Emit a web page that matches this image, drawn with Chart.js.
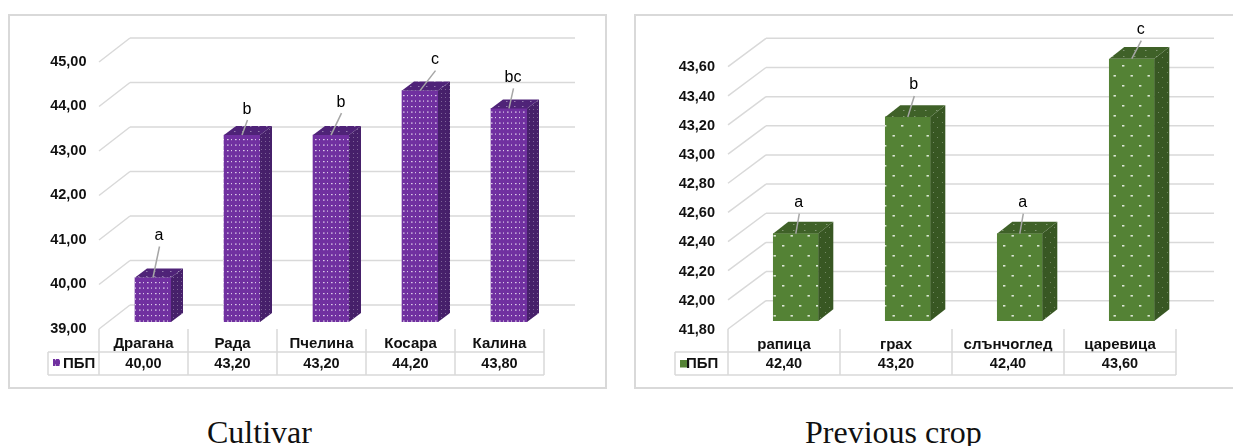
<!DOCTYPE html>
<html lang="en">
<head>
  <meta charset="UTF-8" />
  <title>ПБП</title>
  <script src="https://cdn.jsdelivr.net/npm/chart.js"></script>
  <style>
    html, body { margin: 0; background: #fff; }
    body { position: relative; width: 1233px; height: 446px; overflow: hidden; }
    .frame { position: absolute; top: 14px; height: 371px; border: 2px solid #d9d9d9; box-sizing: content-box; }
    #frameLeft { left: 8px; width: 595px; }
    #frameRight { left: 634px; width: 640px; }
    canvas { position: absolute; top: 0; }
    #cultivarChart { left: 0; }
    #cropChart { left: 625px; }
    .caption { position: absolute; top: 416px; font: 32px/32px "Liberation Serif", serif; color: #111; white-space: nowrap; }
  </style>
</head>
<body>
  <div class="frame" id="frameLeft"></div>
  <div class="frame" id="frameRight"></div>
  <canvas id="cultivarChart" width="620" height="400"></canvas>
  <canvas id="cropChart" width="608" height="400"></canvas>
  <div class="caption" style="left:207px">Cultivar</div>
  <div class="caption" style="left:805px">Previous crop</div>

  <script>
    const seriesName = 'ПБП';

    const cultivars = ['Драгана', 'Рада', 'Пчелина', 'Косара', 'Калина'];
    const cultivarValues = [40.00, 43.20, 43.20, 44.20, 43.80];
    const cultivarLetters = ['a', 'b', 'b', 'c', 'bc'];

    const previousCrops = ['рапица', 'грах', 'слънчоглед', 'царевица'];
    const previousCropValues = [42.40, 43.20, 42.40, 43.60];
    const previousCropLetters = ['a', 'b', 'a', 'c'];

    const LINE = '#d9d9d9';
    const INK = '#111';
    const numberText = v => v.toFixed(2).replace('.', ',');

    // small repeating tile with white-ish dots, used as a bar fill
    function dots(base, tileW, tileH, spots, dotW, dotH, alpha) {
      const c = document.createElement('canvas');
      c.width = tileW;
      c.height = tileH;
      const g = c.getContext('2d');
      g.fillStyle = base;
      g.fillRect(0, 0, tileW, tileH);
      g.fillStyle = `rgba(255,255,255,${alpha})`;
      spots.forEach(([x, y]) => g.fillRect(x, y, dotW, dotH));
      return g.createPattern(c, 'repeat');
    }

    function polygon(ctx, points, fill) {
      ctx.beginPath();
      points.forEach(([x, y], i) => (i ? ctx.lineTo(x, y) : ctx.moveTo(x, y)));
      ctx.closePath();
      ctx.fillStyle = fill;
      ctx.fill();
    }

    function line(ctx, x1, y1, x2, y2) {
      ctx.beginPath();
      ctx.moveTo(x1, y1);
      ctx.lineTo(x2, y2);
      ctx.stroke();
    }

    // walls, floor line, bar depth, leader labels and the data table
    const box3d = {
      id: 'box3d',
      beforeDatasetsDraw(chart, args, o) {
        const { ctx, chartArea: area } = chart;
        const yScale = chart.scales.y;
        ctx.save();
        ctx.strokeStyle = LINE;
        ctx.lineWidth = 1.5;
        yScale.ticks.forEach(t => {
          const y = yScale.getPixelForValue(t.value);
          line(ctx, area.left - o.front[0], y + o.front[1], area.left + o.back[0], y - o.back[1]);
          line(ctx, area.left + o.back[0], y - o.back[1], area.right + o.back[0], y - o.back[1]);
        });
        ctx.restore();
      },
      afterDatasetsDraw(chart, args, o) {
        const { ctx, chartArea: area } = chart;
        const bars = chart.getDatasetMeta(0).data;
        const [dx, dy] = o.depth;
        ctx.save();
        bars.forEach(bar => {
          const l = bar.x - bar.width / 2;
          const r = bar.x + bar.width / 2;
          polygon(ctx, [[r, bar.y], [r + dx, bar.y - dy], [r + dx, bar.base - dy], [r, bar.base]], o.sideFill);
          polygon(ctx, [[l, bar.y], [l + dx, bar.y - dy], [r + dx, bar.y - dy], [r, bar.y]], o.topFill);
        });

        // significance letters with their grey leaders
        ctx.font = '16px "Liberation Sans", sans-serif';
        ctx.textAlign = 'center';
        ctx.textBaseline = 'middle';
        bars.forEach((bar, i) => {
          const [ox, oy] = o.letterOffsets[i];
          ctx.strokeStyle = '#a6a6a6';
          ctx.lineWidth = 1.5;
          line(ctx, bar.x + ox + 0.5, bar.y + oy + 11, bar.x, bar.y);
          ctx.fillStyle = '#000';
          ctx.fillText(o.letters[i], bar.x + ox, bar.y + oy);
        });

        // data table below the floor
        const left = area.left - o.front[0];
        const step = (area.right - area.left) / bars.length;
        const right = left + step * bars.length;
        const rowTop = o.table.top;
        const rowBottom = o.table.bottom;
        ctx.strokeStyle = LINE;
        ctx.lineWidth = 1.5;
        line(ctx, o.table.left, rowTop, right, rowTop);
        line(ctx, o.table.left, rowBottom, right, rowBottom);
        line(ctx, o.table.left, rowTop, o.table.left, rowBottom);
        for (let i = 0; i <= bars.length; i++) {
          line(ctx, left + step * i, area.bottom + o.front[1], left + step * i, rowBottom);
        }
        ctx.fillStyle = INK;
        ctx.font = 'bold 14.5px "Liberation Sans", sans-serif';
        o.values.forEach((v, i) => {
          ctx.fillText(numberText(v), left + step * (i + 0.5), (rowTop + rowBottom) / 2 + 0.5);
        });
        const [kx, ky, ks] = o.key;
        ctx.fillStyle = o.keyFill;
        ctx.fillRect(kx, ky, ks, ks);
        ctx.fillStyle = INK;
        ctx.font = 'bold 15px "Liberation Sans", sans-serif';
        ctx.textAlign = 'left';
        ctx.fillText(seriesName, o.table.nameX, (rowTop + rowBottom) / 2 + 0.5);
        ctx.restore();
      }
    };

    function makeChart(id, labels, values, look) {
      const canvas = document.getElementById(id);
      return new Chart(canvas, {
        type: 'bar',
        data: {
          labels,
          datasets: [{ label: seriesName, data: values, base: look.min, backgroundColor: look.faceFill, barThickness: look.barWidth, borderWidth: 0 }]
        },
        options: {
          responsive: false,
          animation: false,
          layout: { padding: { top: look.top, right: canvas.width - look.right, bottom: 0, left: 0 } },
          plugins: {
            legend: { display: false },
            tooltip: { enabled: false },
            box3d: look
          },
          scales: {
            x: {
              grid: { display: false, drawTicks: false },
              border: { display: false },
              ticks: {
                color: INK,
                font: { family: 'Liberation Sans', size: 15, weight: 'bold' },
                padding: look.xPadding,
                labelOffset: -look.front[0],
                maxRotation: 0,
                autoSkip: false
              },
              afterFit(axis) { axis.height = canvas.height - look.bottom; }
            },
            y: {
              min: look.min,
              max: look.max,
              grid: { display: false, drawTicks: false },
              border: { display: false },
              ticks: {
                stepSize: look.step,
                color: INK,
                font: { family: 'Liberation Sans', size: 14.5, weight: 'bold' },
                padding: look.yPadding,
                labelOffset: look.yLabelOffset,
                callback: v => numberText(v)
              },
              afterFit(axis) { axis.width = look.left; }
            }
          }
        },
        plugins: [box3d]
      });
    }

    const purpleFace = dots('#7030a0', 8, 11, [[3, 1.5], [7, 7], [3, 7], [7, 1.5]], 1.6, 1.2, 0.75);
    const greenFace = dots('#548235', 17, 20, [[4, 5], [12.5, 15]], 2.4, 1.6, 0.8);

    makeChart('cultivarChart', cultivars, cultivarValues, {
      min: 39, max: 45, step: 1,
      left: 108.5, right: 553.5, top: 55, bottom: 322,
      barWidth: 36,
      front: [9.5, 7], back: [21.5, 17], depth: [12, 9],
      xPadding: 13, yPadding: 22, yLabelOffset: 6.8,
      faceFill: purpleFace,
      sideFill: dots('#46206a', 4, 4, [[1, 1]], 1, 1, 0.3),
      topFill: dots('#4f2378', 8, 5, [[2, 1]], 1.5, 1, 0.4),
      keyFill: purpleFace,
      key: [53, 359, 7],
      table: { left: 48, top: 352, bottom: 375, nameX: 63 },
      values: cultivarValues,
      letters: cultivarLetters,
      letterOffsets: [[6, -42], [5, -26], [10, -33], [15, -31], [4, -31]]
    });

    makeChart('cropChart', previousCrops, previousCropValues, {
      min: 41.8, max: 43.6, step: 0.2,
      left: 114.8, right: 562.8, top: 58.65, bottom: 321,
      barWidth: 45,
      front: [11.8, 8], back: [26.2, 20.3], depth: [15, 11.7],
      xPadding: 15, yPadding: 24.8, yLabelOffset: 8.8,
      faceFill: greenFace,
      sideFill: dots('#385723', 9, 10, [[2, 2], [6, 7]], 1, 1, 0.3),
      topFill: dots('#3f6128', 11, 6, [[3, 2]], 1.5, 1, 0.35),
      keyFill: '#548235',
      key: [55, 360, 7.5],
      table: { left: 50, top: 352, bottom: 375, nameX: 61 },
      values: previousCropValues,
      letters: previousCropLetters,
      letterOffsets: [[3, -31], [6, -32], [3, -31], [9, -29]]
    });
  </script>
</body>
</html>
